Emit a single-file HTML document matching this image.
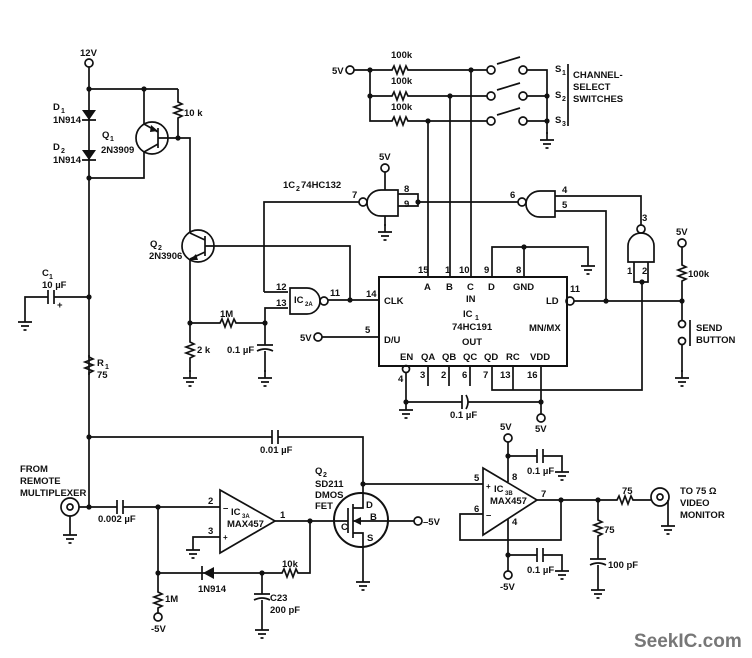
<!DOCTYPE html>
<html><head><meta charset="utf-8"><style>
html,body{margin:0;padding:0;background:#fff;}
svg{display:block;}
text{font-family:"Liberation Sans",Arial,sans-serif;font-size:9.5px;font-weight:bold;fill:#111;}
.l{stroke:#111;stroke-width:1.7;fill:none;}
.t{stroke:#111;stroke-width:1.7;fill:#fff;}
</style></head><body>
<svg width="752" height="658" viewBox="0 0 752 658" xmlns="http://www.w3.org/2000/svg">
<defs>
<path id="rv" d="M0 0 l0 2 l4 2 l-8 3 l8 3 l-8 3 l8 3 l-4 2 l0 2" class="l"/>
<path id="rh" d="M0 0 l2 0 l2 -4 l3 8 l3 -8 l3 8 l3 -8 l2 4 l2 0" class="l"/>
<g id="gnd" class="l"><path d="M0 -8 V0 M-7 0 H7 M-4 4 H4 M-1.5 8 H1.5"/></g>
<circle id="dot" r="2.6" fill="#111"/>
<circle id="term" r="4" class="t"/>
</defs>

<use href="#term" x="89" y="63"/><text x="80" y="56">12V</text>
<path class="l" d="M89 67 V500 M89 89 H178 M144 89 V124 M89 178 H144 V152"/>
<use href="#dot" x="89" y="89"/><use href="#dot" x="144" y="89"/><use href="#dot" x="89" y="178"/>
<path d="M82 110 H96 L89 120 Z M82 150 H96 L89 160 Z" fill="#111"/>
<path class="l" d="M82 120 H96 M82 160 H96"/>
<text x="53" y="110">D</text><text x="61" y="113" style="font-size:7px">1</text><text x="53" y="123">1N914</text>
<text x="53" y="150">D</text><text x="61" y="153" style="font-size:7px">2</text><text x="53" y="163">1N914</text>
<circle cx="152" cy="138" r="16" class="l"/>
<path class="l" d="M158 128 V148 M158 138 H178 M144 124 L158 132 M144 152 L158 144"/>
<path d="M151 125 L158 131 L150 132 Z" fill="#111"/>
<text x="102" y="138">Q</text><text x="110" y="141" style="font-size:7px">1</text><text x="101" y="153">2N3909</text>
<path class="l" d="M178 89 V100"/><use href="#rv" x="178" y="100"/><path class="l" d="M178 120 V138 H190 V233"/>
<use href="#dot" x="178" y="138"/><text x="184" y="116">10 k</text>
<circle cx="198" cy="246" r="16" class="l"/>
<path class="l" d="M205 236 V256 M205 246 H350 V300 M190 233 L205 240 M190 259 L205 252"/>
<path d="M196 254 L190 260 L198 260 Z" fill="#111"/>
<text x="150" y="247">Q</text><text x="158" y="250" style="font-size:7px">2</text><text x="149" y="259">2N3906</text>
<path class="l" d="M190 259 V340"/><use href="#dot" x="190" y="323"/>
<use href="#rv" x="190" y="340"/><path class="l" d="M190 360 V372"/><use href="#gnd" x="190" y="378"/>
<text x="197" y="353">2 k</text>
<path class="l" d="M190 323 H218"/><use href="#rh" x="218" y="323"/><path class="l" d="M238 323 H265 V345 M265 323 V308 H288"/>
<use href="#dot" x="265" y="323"/><text x="220" y="317">1M</text>
<path class="l" d="M257 345 H273 M257 351 Q265 347 273 351 M265 351 V372"/><use href="#gnd" x="265" y="378"/>
<text x="227" y="353">0.1 µF</text>
<path class="l" d="M25 314 V297 H48 M48 290 V304 M54 290 V304 M54 297 H89"/>
<use href="#gnd" x="25" y="322"/><use href="#dot" x="89" y="297"/>
<text x="42" y="276">C</text><text x="49" y="279" style="font-size:7px">1</text><text x="42" y="288">10 µF</text><text x="57" y="308">+</text>
<use href="#rv" x="89" y="355"/>
<text x="97" y="366">R</text><text x="105" y="369" style="font-size:7px">1</text><text x="97" y="378">75</text>

<text x="283" y="188">1C</text><text x="296" y="191" style="font-size:7px">2</text><text x="301" y="188">74HC132</text>
<path class="l" d="M264 292 V202 H359 M264 292 H288"/>
<text x="352" y="198">7</text>
<circle cx="363" cy="202" r="4" class="l"/>
<path class="l" d="M381 190 H398 V216 H381 A14 13 0 0 1 381 190 Z"/>
<use href="#term" x="385" y="168"/><text x="379" y="160">5V</text>
<path class="l" d="M385 172 V190 M385 216 V226"/><use href="#gnd" x="385" y="232"/>
<path class="l" d="M398 194 H418 V206 H398 M418 202 H518"/><use href="#dot" x="418" y="202"/>
<text x="404" y="192">8</text><text x="404" y="207">9</text>
<text x="510" y="198">6</text><circle cx="522" cy="202" r="4" class="l"/>
<path class="l" d="M540 191 H555 V217 H540 A14 13 0 0 1 540 191 Z"/>
<path class="l" d="M555 196 H641 V225 M555 211 H606 V301"/>
<text x="562" y="193">4</text><text x="562" y="208">5</text>
<text x="642" y="221">3</text><circle cx="641" cy="229" r="4" class="l"/>
<path class="l" d="M628 262 V246 A13 13 0 0 1 654 246 V262 Z"/>
<path class="l" d="M634 262 V282 H648 V262 M642 282 V390 H492 V366"/><use href="#dot" x="642" y="282"/>
<text x="627" y="274">1</text><text x="642" y="274">2</text>
<path class="l" d="M290 288 H307 A13 13 0 0 1 307 314 H290 Z"/>
<circle cx="324" cy="301" r="4" class="l"/>
<text x="294" y="303">IC</text><text x="305" y="306" style="font-size:6px">2A</text>
<text x="276" y="290">12</text><text x="276" y="306">13</text>
<path class="l" d="M328 300 H378"/><use href="#dot" x="350" y="300"/>
<text x="330" y="296">11</text><text x="366" y="297">14</text>

<rect x="379" y="277" width="188" height="89" class="l" style="stroke-width:2"/>
<text x="384" y="304">CLK</text><text x="384" y="343">D/U</text>
<text x="424" y="290">A</text><text x="446" y="290">B</text><text x="467" y="290">C</text><text x="488" y="290">D</text><text x="513" y="290">GND</text>
<text x="466" y="302">IN</text>
<text x="463" y="317">IC</text><text x="475" y="320" style="font-size:7px">1</text>
<text x="452" y="330">74HC191</text>
<text x="462" y="345">OUT</text>
<text x="546" y="304">LD</text><text x="529" y="331">MN/MX</text>
<text x="400" y="360">EN</text><text x="421" y="360">QA</text><text x="442" y="360">QB</text><text x="463" y="360">QC</text><text x="484" y="360">QD</text><text x="506" y="360">RC</text><text x="530" y="360">VDD</text>
<path class="l" d="M428 277 V121 M450 277 V96 M471 277 V70 M492 277 V247 H588 V258 M524 247 V277"/>
<use href="#dot" x="524" y="247"/><use href="#gnd" x="588" y="266"/>
<text x="418" y="273">15</text><text x="445" y="273">1</text><text x="459" y="273">10</text><text x="484" y="273">9</text><text x="516" y="273">8</text>
<use href="#term" x="318" y="337"/><text x="300" y="341">5V</text>
<path class="l" d="M322 337 H379"/><text x="365" y="333">5</text>
<circle cx="570" cy="301" r="4" class="l"/><text x="570" y="292">11</text>
<path class="l" d="M574 301 H682"/><use href="#dot" x="606" y="301"/><use href="#dot" x="682" y="301"/>
<circle cx="406" cy="369" r="3.5" class="l"/>
<path class="l" d="M406 373 V402 H462 M468 402 H541 M462 395 V409 M466 395 Q470 402 466 409 M428 366 V386 M449 366 V386 M470 366 V386 M513 366 V390 M541 366 V414"/>
<use href="#dot" x="406" y="402"/><use href="#dot" x="541" y="402"/><use href="#gnd" x="406" y="410"/>
<use href="#term" x="541" y="418"/><text x="535" y="432">5V</text><text x="450" y="418">0.1 µF</text>
<text x="398" y="382">4</text><text x="420" y="378">3</text><text x="441" y="378">2</text><text x="462" y="378">6</text><text x="483" y="378">7</text><text x="500" y="378">13</text><text x="527" y="378">16</text>
<use href="#term" x="682" y="243"/><text x="676" y="235">5V</text>
<path class="l" d="M682 247 V263 M682 283 V320 M682 345 V372 M690 320 V346"/><use href="#rv" x="682" y="263"/>
<text x="688" y="277">100k</text>
<circle cx="682" cy="324" r="3.5" class="t"/><circle cx="682" cy="341" r="3.5" class="t"/>
<use href="#gnd" x="682" y="378"/>
<text x="696" y="331">SEND</text><text x="696" y="343">BUTTON</text>

<use href="#term" x="350" y="70"/><text x="332" y="74">5V</text>
<path class="l" d="M354 70 H390 M370 70 V121 H390 M370 96 H390 M410 70 H487 M410 96 H487 M410 121 H487"/>
<use href="#rh" x="390" y="70"/><use href="#rh" x="390" y="96"/><use href="#rh" x="390" y="121"/>
<use href="#dot" x="370" y="70"/><use href="#dot" x="370" y="96"/><use href="#dot" x="471" y="70"/><use href="#dot" x="450" y="96"/><use href="#dot" x="428" y="121"/>
<text x="391" y="58">100k</text><text x="391" y="84">100k</text><text x="391" y="110">100k</text>
<circle cx="491" cy="70" r="4" class="t"/><circle cx="523" cy="70" r="4" class="t"/>
<circle cx="491" cy="96" r="4" class="t"/><circle cx="523" cy="96" r="4" class="t"/>
<circle cx="491" cy="121" r="4" class="t"/><circle cx="523" cy="121" r="4" class="t"/>
<path class="l" d="M497 64 L520 57 M497 90 L520 83 M497 115 L520 108 M527 70 H547 V134 M527 96 H547 M527 121 H547"/>
<use href="#dot" x="547" y="96"/><use href="#dot" x="547" y="121"/><use href="#gnd" x="547" y="140"/>
<text x="555" y="72">S</text><text x="562" y="75" style="font-size:7px">1</text>
<text x="555" y="98">S</text><text x="562" y="101" style="font-size:7px">2</text>
<text x="555" y="123">S</text><text x="562" y="126" style="font-size:7px">3</text>
<path class="l" d="M568 64 V126"/>
<text x="573" y="78">CHANNEL-</text><text x="573" y="90">SELECT</text><text x="573" y="102">SWITCHES</text>

<path class="l" d="M89 500 V507 M89 437 H272 M278 437 H363 V494 M272 430 V444 M278 430 V444"/>
<use href="#dot" x="89" y="437"/><text x="260" y="453">0.01 µF</text>
<circle cx="70" cy="507" r="9" class="l"/><circle cx="70" cy="507" r="3" class="l"/>
<path class="l" d="M70 516 V527"/><use href="#gnd" x="70" y="535"/>
<text x="20" y="472">FROM</text><text x="20" y="484">REMOTE</text><text x="20" y="496">MULTIPLEXER</text>
<path class="l" d="M79 507 H117 M123 507 H220 M117 500 V514 M123 500 V514"/>
<use href="#dot" x="89" y="507"/><use href="#dot" x="158" y="507"/>
<text x="98" y="522">0.002 µF</text>
<path class="l" d="M220 490 V553 L275 521 Z"/>
<text x="223" y="511">–</text><text x="223" y="540" style="font-size:8px">+</text>
<text x="231" y="515">IC</text><text x="242" y="518" style="font-size:6px">3A</text><text x="227" y="527">MAX457</text>
<text x="208" y="504">2</text><text x="208" y="534">3</text><text x="280" y="518">1</text>
<path class="l" d="M220 537 H193 V542"/><use href="#gnd" x="193" y="550"/>
<path class="l" d="M275 521 H334 M310 521 V573 H300 M280 573 H158 V590 M158 507 V573 M262 573 V594 M158 610 V613"/>
<use href="#dot" x="310" y="521"/><use href="#dot" x="158" y="573"/><use href="#dot" x="262" y="573"/>
<use href="#rh" x="280" y="573"/><text x="282" y="567">10k</text>
<path d="M214 567 V579 L203 573 Z" fill="#111"/><path class="l" d="M202 566 V580"/>
<text x="198" y="592">1N914</text>
<use href="#rv" x="158" y="590"/><text x="165" y="602">1M</text>
<use href="#term" x="158" y="617"/><text x="151" y="632">-5V</text>
<path class="l" d="M254 594 H270 M254 600 Q262 596 270 600 M262 600 V622"/><use href="#gnd" x="262" y="630"/>
<text x="270" y="601">C23</text><text x="270" y="613">200 pF</text>
<circle cx="361" cy="520" r="27" class="l" style="stroke-width:2"/>
<path class="l" d="M334 521 H348 M348 508 V533 M353 504 V538 M353 508 H363 V494 M353 533 H363 V547 M353 521 H414"/>
<path d="M353 521 L361 517 L361 525 Z" fill="#111"/>
<use href="#dot" x="363" y="484"/>
<text x="366" y="508">D</text><text x="370" y="520">B</text><text x="341" y="530">C</text><text x="367" y="541">S</text>
<use href="#term" x="418" y="521"/><text x="423" y="525">–5V</text>
<path class="l" d="M363 547 V574"/><use href="#gnd" x="363" y="582"/>
<text x="315" y="474">Q</text><text x="323" y="477" style="font-size:7px">2</text>
<text x="315" y="487">SD211</text><text x="315" y="498">DMOS</text><text x="315" y="509">FET</text>
<path class="l" d="M363 484 H483 M483 468 V535 L537 500 Z"/>
<text x="486" y="489" style="font-size:8px">+</text><text x="486" y="518">–</text>
<text x="494" y="492">IC</text><text x="505" y="495" style="font-size:6px">3B</text><text x="490" y="504">MAX457</text>
<text x="474" y="481">5</text><text x="474" y="512">6</text><text x="512" y="480">8</text><text x="512" y="525">4</text><text x="541" y="497">7</text>
<path class="l" d="M483 514 H460 V540 H561 V500 M537 500 H615 M635 500 H651"/>
<use href="#dot" x="561" y="500"/><use href="#dot" x="598" y="500"/>
<use href="#rh" x="615" y="500"/><text x="622" y="494">75</text>
<path class="l" d="M508 442 V482 M508 456 H537 M543 456 H562 V464 M537 449 V463 M543 449 V463"/>
<use href="#term" x="508" y="438"/><text x="500" y="430">5V</text><use href="#dot" x="508" y="456"/>
<use href="#gnd" x="562" y="472"/><text x="527" y="474">0.1 µF</text>
<path class="l" d="M508 519 V571 M508 555 H537 M543 555 H562 V563 M537 548 V562 M543 548 V562"/>
<use href="#term" x="508" y="575"/><text x="500" y="590">-5V</text><use href="#dot" x="508" y="555"/>
<use href="#gnd" x="562" y="571"/><text x="527" y="573">0.1 µF</text>
<path class="l" d="M598 500 V518 M598 538 V559 M590 559 H606 M590 565 Q598 561 606 565 M598 565 V582"/>
<use href="#rv" x="598" y="518"/><text x="604" y="533">75</text>
<use href="#gnd" x="598" y="590"/><text x="608" y="568">100 pF</text>
<circle cx="660" cy="497" r="9" class="l"/><circle cx="660" cy="497" r="3" class="l"/>
<path class="l" d="M668 500 V518"/><use href="#gnd" x="668" y="526"/>
<text x="680" y="494">TO 75 Ω</text><text x="680" y="506">VIDEO</text><text x="680" y="518">MONITOR</text>

<text x="634" y="647" style="font-size:19px;fill:#777;font-weight:bold">SeekIC.com</text>
</svg>
</body></html>
